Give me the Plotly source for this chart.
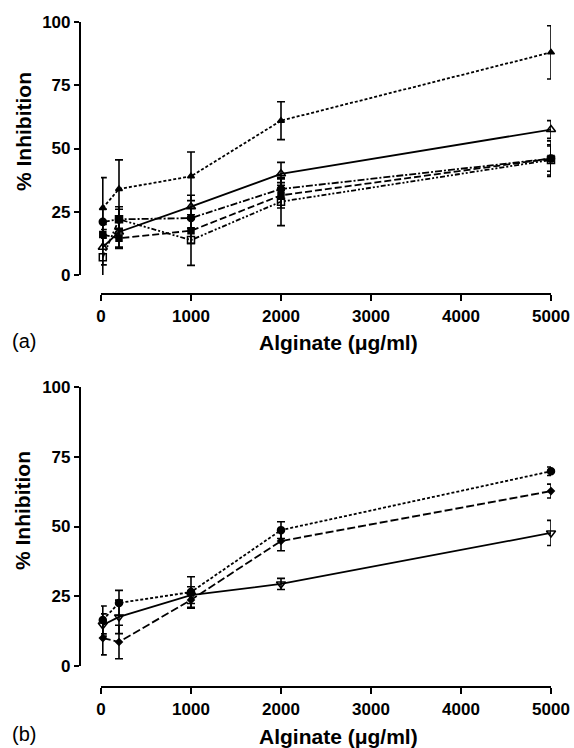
import plotly.graph_objects as go

W, H = 574, 748

# ---------------- data ----------------
conc = [20, 200, 1000, 2000, 5000]
x_ticks = [0, 1000, 2000, 3000, 4000, 5000]
y_ticks = [0, 25, 50, 75, 100]

# panel (a)
a1_y = [26.5, 34.0, 39.0, 61.0, 88.0]
a1_e = [12.0, 11.5, 9.6, 7.5, 10.5]
a2_y = [11.0, 17.0, 27.0, 40.0, 57.5]
a2_e = [7.0, 6.0, 4.5, 4.5, 3.5]
a3_y = [21.0, 22.0, 22.5, 34.0, 46.0]
a3_e = [5.0, 4.0, 4.0, 4.0, 5.0]
a4_y = [16.0, 14.5, 17.5, 31.5, 46.0]
a4_e = [4.0, 4.0, 5.0, 5.0, 7.0]
a5_y = [7.0, 22.0, 13.8, 29.0, 45.5]
a5_e = [8.0, 5.0, 10.0, 9.5, 6.0]

# panel (b)
b1_y = [16.5, 22.6, 26.5, 48.7, 69.8]
b1_e = [5.0, 4.5, 5.5, 3.0, 1.5]
b2_y = [10.0, 8.6, 23.7, 44.8, 62.7]
b2_e = [6.0, 6.0, 3.0, 3.5, 2.5]
b3_y = [14.7, 17.6, 25.4, 29.4, 47.7]
b3_e = [4.0, 6.0, 3.0, 2.0, 4.5]

FONT = "Liberation Sans, Arial, Helvetica, sans-serif"

fig = go.Figure()


def add(x, y, e, dash, symbol, size, xa, ya):
    fig.add_trace(go.Scatter(
        x=x, y=y, mode="lines+markers", xaxis=xa, yaxis=ya,
        line=dict(color="black", width=1.8, dash=dash),
        marker=dict(symbol=symbol, size=size, color="black",
                    line=dict(color="black", width=1.5)),
        error_y=dict(type="data", array=e, visible=True, color="black",
                     thickness=1.6, width=4),
        cliponaxis=False, showlegend=False,
    ))


add(conc, a1_y, a1_e, "3px,2px", "triangle-up", 6, "x", "y")
add(conc, a2_y, a2_e, "solid", "triangle-up-open", 8, "x", "y")
add(conc, a3_y, a3_e, "7px,2px,2px,2px", "circle", 7, "x", "y")
add(conc, a4_y, a4_e, "7px,3px", "square", 6, "x", "y")
add(conc, a5_y, a5_e, "5px,2px,2px,2px,2px,2px", "square-open", 7, "x", "y")

add(conc, b1_y, b1_e, "3px,2px", "circle", 7, "x2", "y2")
add(conc, b2_y, b2_e, "8px,3px", "diamond", 5, "x2", "y2")
add(conc, b3_y, b3_e, "solid", "triangle-down-open", 8, "x2", "y2")


def py(p):
    return 1 - p / H


xdom = [101 / W, 551 / W]
yax_pos = 80 / W

xcommon = dict(
    range=[0, 5000], domain=xdom, anchor="free", automargin=False,
    tickvals=x_ticks, ticktext=[str(v) for v in x_ticks],
    showline=True, linecolor="black", linewidth=2.2,
    ticks="outside", ticklen=6, tickwidth=2.2, tickcolor="black",
    showgrid=False, zeroline=False,
    tickfont=dict(family=FONT, size=17, color="black", weight="bold"),
)
ycommon = dict(
    range=[0, 100], anchor="free", position=yax_pos, automargin=False,
    tickvals=y_ticks, ticktext=[str(v) for v in y_ticks],
    showline=True, linecolor="black", linewidth=2.2,
    ticks="outside", ticklen=5, tickwidth=2.2, tickcolor="black",
    showgrid=False, zeroline=False,
    tickfont=dict(family=FONT, size=17, color="black", weight="bold"),
)

fig.update_layout(
    width=W, height=H,
    margin=dict(l=0, r=0, t=0, b=0, pad=0, autoexpand=False),
    paper_bgcolor="white", plot_bgcolor="white",
    xaxis=dict(**xcommon, position=py(294)),
    yaxis=dict(**ycommon, domain=[py(275), py(22)]),
    xaxis2=dict(**xcommon, position=py(687)),
    yaxis2=dict(**ycommon, domain=[py(666), py(387)]),
)

annots = []
for (ytc, xtc, lab, labc) in [(132, 343, "(a)", 341), (511, 736, "(b)", 734)]:
    annots.append(dict(text="% Inhibition", x=23 / W, y=py(ytc), xref="paper", yref="paper",
                       textangle=-90, showarrow=False, xanchor="center", yanchor="middle",
                       font=dict(family=FONT, size=21, color="black", weight="bold")))
    annots.append(dict(text="Alginate (μg/ml)", x=338 / W, y=py(xtc), xref="paper", yref="paper",
                       showarrow=False, xanchor="center", yanchor="middle",
                       font=dict(family=FONT, size=21, color="black", weight="bold")))
    annots.append(dict(text=lab, x=24 / W, y=py(labc), xref="paper", yref="paper",
                       showarrow=False, xanchor="center", yanchor="middle",
                       font=dict(family=FONT, size=20, color="black")))
fig.update_layout(annotations=annots)

fig.write_html("out.html")
